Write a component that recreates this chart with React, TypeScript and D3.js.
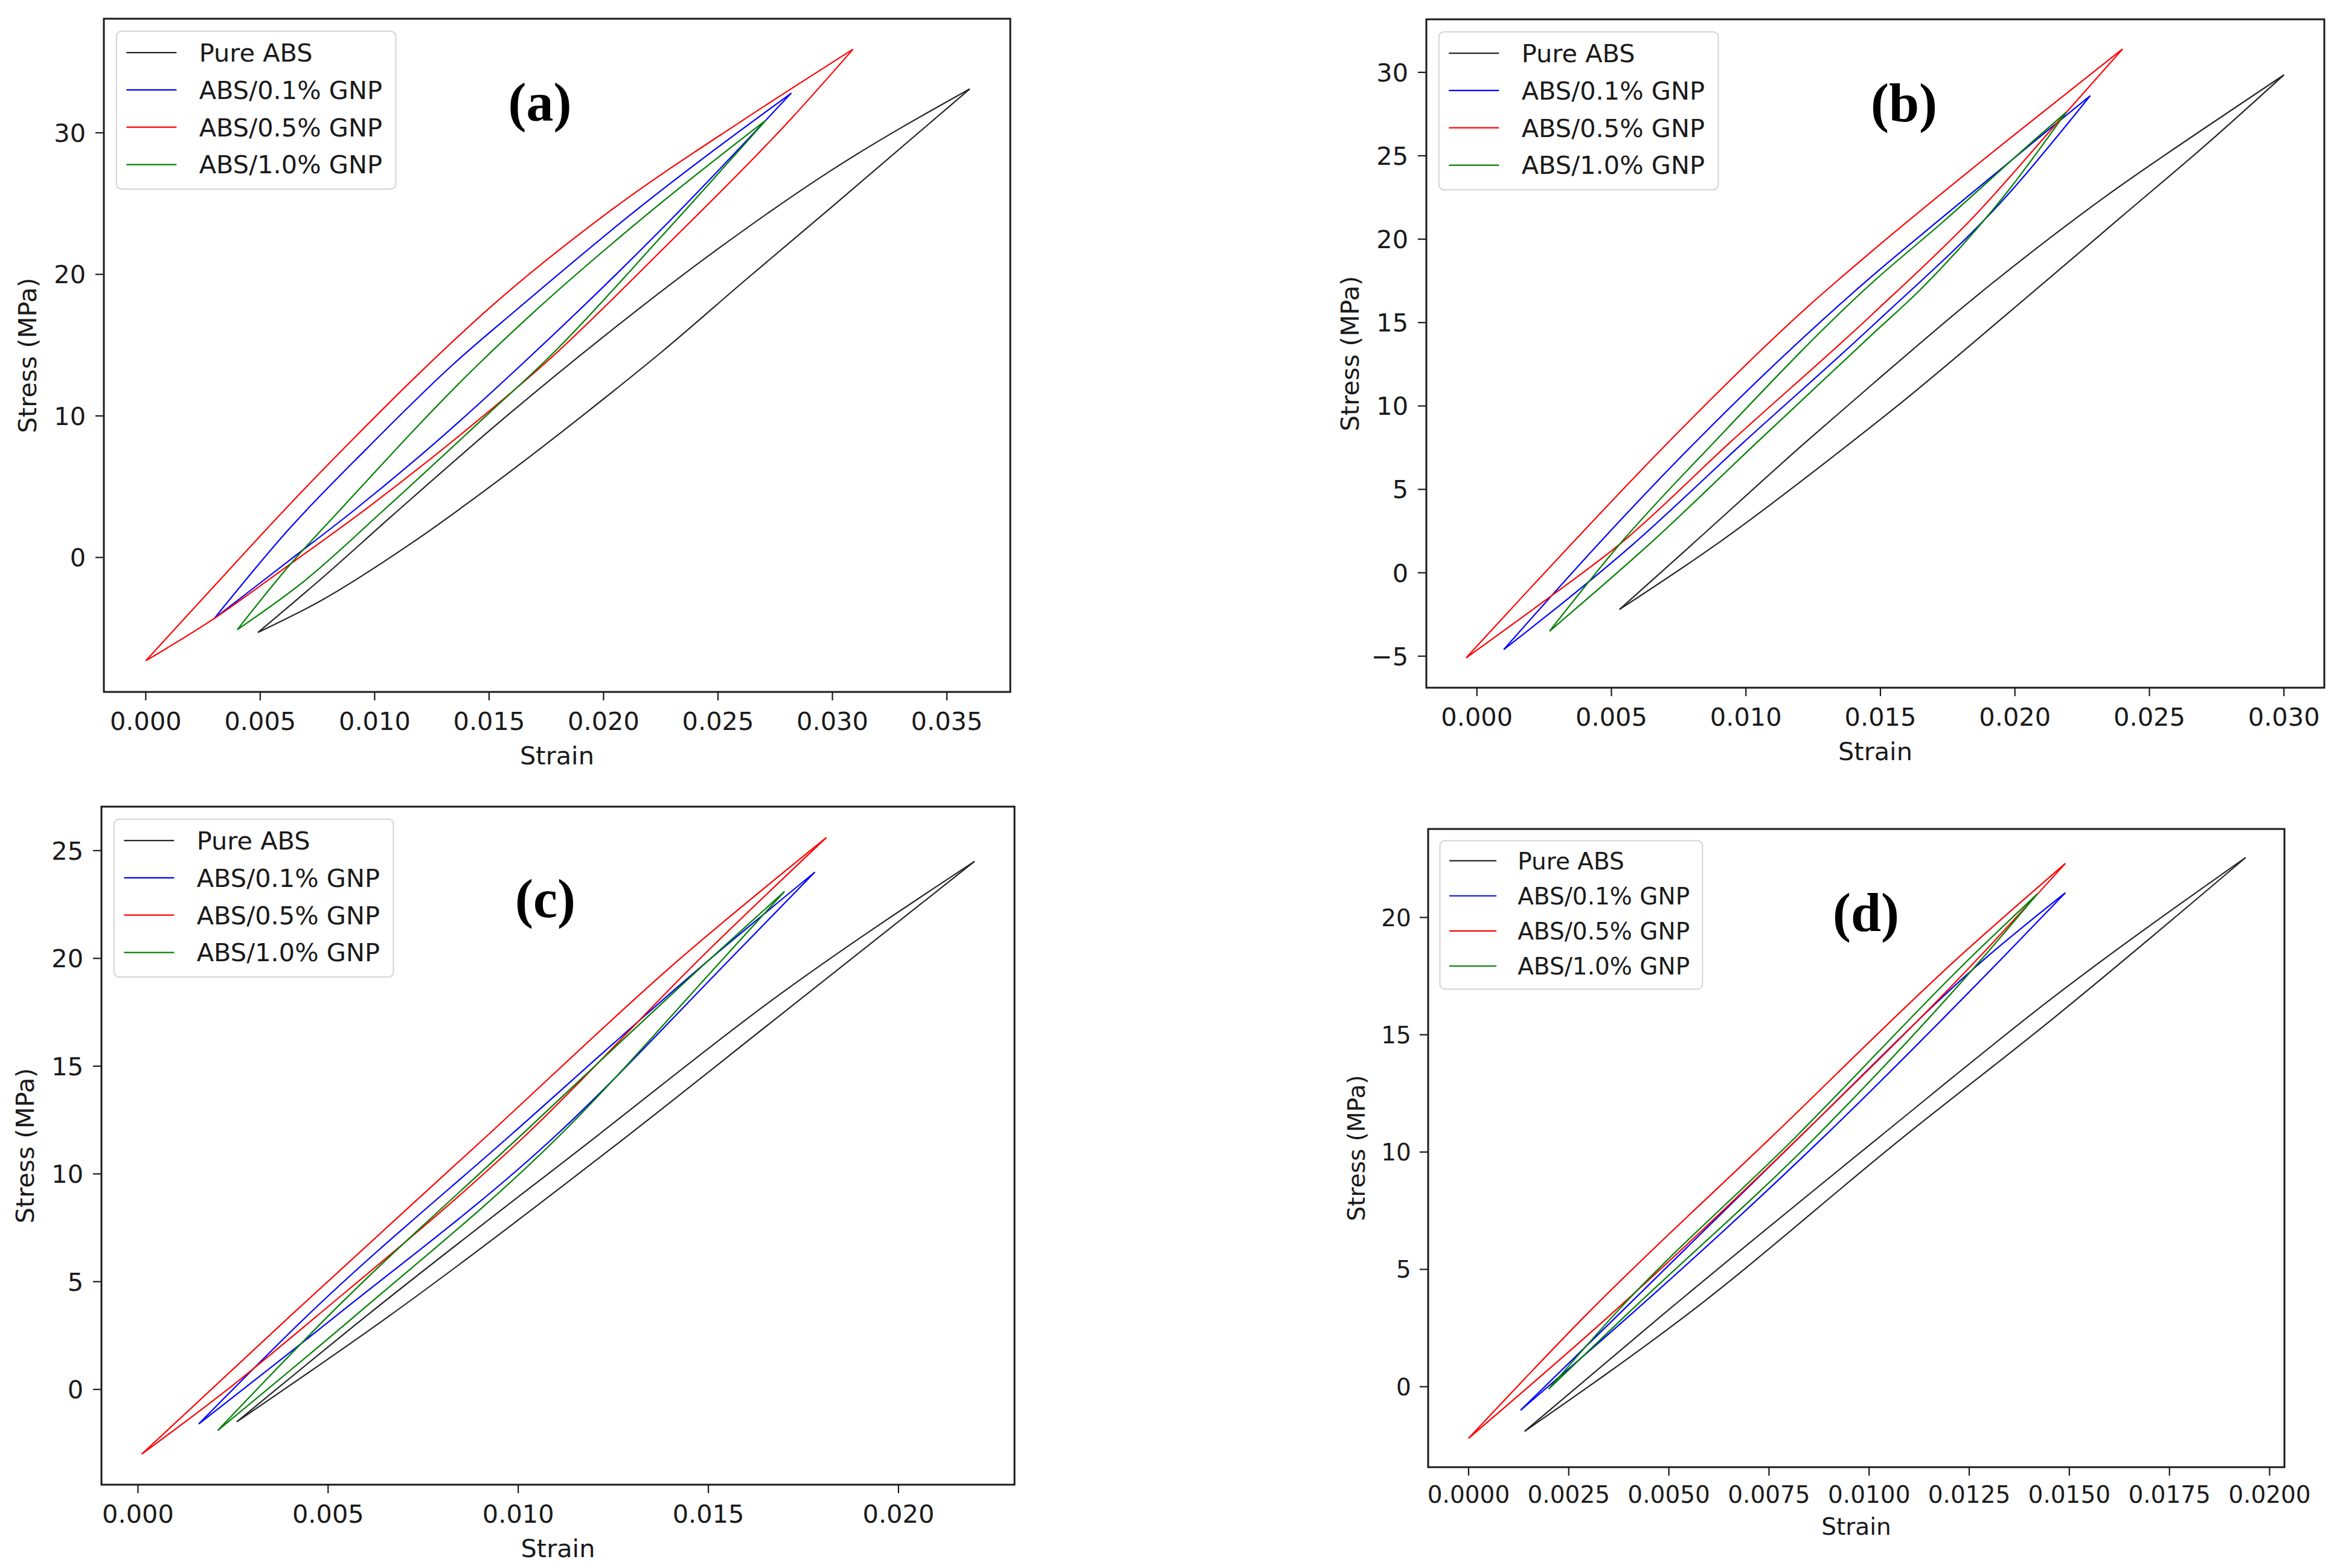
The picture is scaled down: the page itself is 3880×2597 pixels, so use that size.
import * as d3 from "d3";

type Pt = [number, number];

const SERIES = ["Pure ABS", "ABS/0.1% GNP", "ABS/0.5% GNP", "ABS/1.0% GNP"];
const COLORS = ["#262626", "#0000ff", "#ff0000", "#008000"];

// panel (a): strain, stress (MPa) — upper and lower branch of each loop
const A_PURE_UP: Pt[] = [[0.0049, -5.3], [0.0076, -1.6], [0.0108, 3.0], [0.0157, 9.9], [0.02, 15.6], [0.025, 21.8], [0.03, 27.4], [0.036, 33.1]];
const A_PURE_DN: Pt[] = [[0.0049, -5.3], [0.0076, -3.1], [0.0116, 1.0], [0.0157, 5.8], [0.0193, 10.3], [0.0226, 14.6], [0.0262, 19.6], [0.03, 24.8], [0.036, 33.1]];
const A_01_UP: Pt[] = [[0.003, -4.3], [0.0062, 1.9], [0.0096, 7.6], [0.0134, 13.6], [0.0162, 17.5], [0.0214, 24.5], [0.0282, 32.8]];
const A_01_DN: Pt[] = [[0.003, -4.3], [0.0062, -0.3], [0.009, 3.2], [0.0125, 7.9], [0.0164, 13.6], [0.0226, 23.3], [0.0282, 32.8]];
const A_05_UP: Pt[] = [[0.0, -7.3], [0.003, -2.0], [0.0062, 3.6], [0.0092, 8.6], [0.0122, 13.4], [0.015, 17.6], [0.0203, 24.5], [0.0261, 30.9], [0.0309, 35.9]];
const A_05_DN: Pt[] = [[0.0, -7.3], [0.003, -4.3], [0.0062, -0.6], [0.0096, 3.4], [0.0143, 9.4], [0.0175, 13.8], [0.0226, 21.8], [0.0282, 31.0], [0.0309, 35.9]];
const A_10_UP: Pt[] = [[0.004, -5.1], [0.0062, -0.7], [0.0084, 3.2], [0.0145, 13.6], [0.017, 17.4], [0.0221, 24.5], [0.0271, 30.9]];
const A_10_DN: Pt[] = [[0.004, -5.1], [0.0069, -1.7], [0.0103, 3.2], [0.015, 10.2], [0.0174, 13.8], [0.0226, 22.8], [0.0271, 30.9]];

// panel (b)
const B_PURE_UP: Pt[] = [[0.0053, -2.2], [0.008, 1.7], [0.0122, 7.8], [0.0147, 11.3], [0.0185, 16.5], [0.0234, 22.6], [0.027, 26.6], [0.03, 29.85]];
const B_PURE_DN: Pt[] = [[0.0053, -2.2], [0.0089, 1.7], [0.0139, 7.8], [0.0157, 10.1], [0.0197, 15.5], [0.024, 21.4], [0.0272, 25.8], [0.03, 29.85]];
const B_01_UP: Pt[] = [[0.001, -4.6], [0.0045, 1.7], [0.0081, 7.8], [0.0147, 17.8], [0.0173, 21.3], [0.0209, 26.1], [0.0228, 28.6]];
const B_01_DN: Pt[] = [[0.001, -4.6], [0.0058, 1.7], [0.0099, 7.8], [0.0147, 14.8], [0.0197, 22.6], [0.0228, 28.6]];
const B_05_UP: Pt[] = [[-0.0004, -5.1], [0.0035, 1.7], [0.0071, 7.8], [0.0124, 16.1], [0.0147, 19.3], [0.0197, 25.9], [0.024, 31.4]];
const B_05_DN: Pt[] = [[-0.0004, -5.1], [0.0025, -1.7], [0.0053, 1.7], [0.0094, 7.8], [0.0147, 15.5], [0.0185, 21.4], [0.0218, 27.4], [0.024, 31.4]];
const B_10_UP: Pt[] = [[0.0027, -3.5], [0.0053, 1.7], [0.0088, 7.8], [0.0147, 17.4], [0.0173, 21.0], [0.0209, 26.2], [0.0219, 27.6]];
const B_10_DN: Pt[] = [[0.0027, -3.5], [0.0064, 1.7], [0.0104, 7.8], [0.0147, 14.3], [0.0165, 17.0], [0.0197, 22.8], [0.0219, 27.6]];

// panel (c)
const C_PURE_UP: Pt[] = [[0.0026, -1.5], [0.006, 3.4], [0.0121, 11.8], [0.0167, 18.1], [0.022, 24.5]];
const C_PURE_DN: Pt[] = [[0.0026, -1.5], [0.0066, 3.4], [0.0129, 11.8], [0.0167, 17.1], [0.022, 24.5]];
const C_01_UP: Pt[] = [[0.0016, -1.6], [0.0045, 3.5], [0.0098, 11.8], [0.015, 19.9], [0.0178, 24.0]];
const C_01_DN: Pt[] = [[0.0016, -1.6], [0.0052, 3.4], [0.011, 11.8], [0.0157, 20.2], [0.0178, 24.0]];
const C_05_UP: Pt[] = [[0.0001, -3.0], [0.004, 3.4], [0.0092, 11.8], [0.0142, 19.9], [0.0181, 25.6]];
const C_05_DN: Pt[] = [[0.0001, -3.0], [0.0025, 0.2], [0.0047, 3.4], [0.0102, 11.8], [0.0149, 20.2], [0.0181, 25.6]];
const C_10_UP: Pt[] = [[0.0021, -1.9], [0.005, 3.4], [0.0102, 12.0], [0.015, 19.9], [0.017, 23.1]];
const C_10_DN: Pt[] = [[0.0021, -1.9], [0.0057, 3.4], [0.0111, 11.8], [0.0155, 20.2], [0.017, 23.1]];

// panel (d)
const D_PURE_UP: Pt[] = [[0.0014, -1.9], [0.0048, 3.0], [0.0103, 10.7], [0.0146, 16.6], [0.0194, 22.55]];
const D_PURE_DN: Pt[] = [[0.0014, -1.9], [0.0054, 3.0], [0.0109, 10.7], [0.0146, 15.7], [0.0194, 22.55]];
const D_01_UP: Pt[] = [[0.0013, -1.0], [0.0037, 3.0], [0.0083, 10.7], [0.013, 18.4], [0.0149, 21.05]];
const D_01_DN: Pt[] = [[0.0013, -1.0], [0.004, 3.0], [0.0089, 10.7], [0.0134, 18.4], [0.0149, 21.05]];
const D_05_UP: Pt[] = [[0.0, -2.2], [0.0029, 3.0], [0.0076, 10.7], [0.0123, 18.4], [0.0149, 22.3]];
const D_05_DN: Pt[] = [[0.0, -2.2], [0.0035, 3.0], [0.0083, 10.7], [0.0128, 18.4], [0.0149, 22.3]];
const D_10_UP: Pt[] = [[0.002, -0.1], [0.0036, 3.0], [0.0082, 10.7], [0.0126, 18.4], [0.0142, 21.0]];
const D_10_DN: Pt[] = [[0.002, -0.1], [0.0039, 3.0], [0.0087, 10.7], [0.0129, 18.4], [0.0142, 21.0]];

const A_X_TICKS = [0, 0.005, 0.01, 0.015, 0.02, 0.025, 0.03, 0.035];
const A_Y_TICKS = [0, 10, 20, 30];
const B_X_TICKS = [0, 0.005, 0.01, 0.015, 0.02, 0.025, 0.03];
const B_Y_TICKS = [-5, 0, 5, 10, 15, 20, 25, 30];
const C_X_TICKS = [0, 0.005, 0.01, 0.015, 0.02];
const C_Y_TICKS = [0, 5, 10, 15, 20, 25];
const D_X_TICKS = [0, 0.0025, 0.005, 0.0075, 0.01, 0.0125, 0.015, 0.0175, 0.02];
const D_Y_TICKS = [0, 5, 10, 15, 20];

interface Panel {
  tag: string;
  box: { l: number; r: number; t: number; b: number };
  xDom: [number, number];
  yDom: [number, number];
  xTicks: number[];
  yTicks: number[];
  xDigits: number;
  fs: number;
  tagAt: [number, number];
  loops: [Pt[], Pt[]][];
}

const PANELS: Panel[] = [
  {
    tag: "(a)", box: { l: 172, r: 1673, t: 31, b: 1146 },
    xDom: [-0.00183, 0.03777], yDom: [-9.5, 38.06],
    xTicks: A_X_TICKS, yTicks: A_Y_TICKS, xDigits: 3, fs: 41.5, tagAt: [894, 200],
    loops: [[A_PURE_UP, A_PURE_DN], [A_01_UP, A_01_DN], [A_05_UP, A_05_DN], [A_10_UP, A_10_DN]],
  },
  {
    tag: "(b)", box: { l: 2362, r: 3849, t: 32, b: 1139 },
    xDom: [-0.00188, 0.0315], yDom: [-6.89, 33.18],
    xTicks: B_X_TICKS, yTicks: B_Y_TICKS, xDigits: 3, fs: 41.5, tagAt: [3153, 201],
    loops: [[B_PURE_UP, B_PURE_DN], [B_01_UP, B_01_DN], [B_05_UP, B_05_DN], [B_10_UP, B_10_DN]],
  },
  {
    tag: "(c)", box: { l: 168, r: 1680, t: 1336, b: 2459 },
    xDom: [-0.00096, 0.02305], yDom: [-4.42, 27.04],
    xTicks: C_X_TICKS, yTicks: C_Y_TICKS, xDigits: 3, fs: 41.5, tagAt: [903, 1519],
    loops: [[C_PURE_UP, C_PURE_DN], [C_01_UP, C_01_DN], [C_05_UP, C_05_DN], [C_10_UP, C_10_DN]],
  },
  {
    tag: "(d)", box: { l: 2365, r: 3783, t: 1373, b: 2430 },
    xDom: [-0.00101, 0.02037], yDom: [-3.43, 23.77],
    xTicks: D_X_TICKS, yTicks: D_Y_TICKS, xDigits: 4, fs: 39, tagAt: [3090, 1542],
    loops: [[D_PURE_UP, D_PURE_DN], [D_01_UP, D_01_DN], [D_05_UP, D_05_DN], [D_10_UP, D_10_DN]],
  },
];

const FONT = "'DejaVu Sans', sans-serif";
const minus = (s: string) => s.replace("-", "\u2212");

function Chart({ p, idx }: { p: Panel; idx: number }) {
  const { l, r, t, b } = p.box;
  const x = d3.scaleLinear().domain(p.xDom).range([l, r]);
  const y = d3.scaleLinear().domain(p.yDom).range([b, t]);
  const line = d3.line<Pt>().x(d => x(d[0])).y(d => y(d[1])).curve(d3.curveMonotoneX);
  const fs = p.fs;
  const tick = 14;
  const clipId = `clip-${idx}`;

  // legend geometry (matplotlib-like spacing)
  const lx = l + 0.5 * fs;
  const ly = t + 0.5 * fs;
  const lw = 11.15 * fs;
  const lh = 6.3 * fs;
  const row0 = ly + 0.85 * fs;
  const rowGap = 1.49 * fs;

  return (
    <g>
      <clipPath id={clipId}>
        <rect x={l} y={t} width={r - l} height={b - t} />
      </clipPath>
      <rect x={l} y={t} width={r - l} height={b - t} fill="#fff" />
      <g clipPath={`url(#${clipId})`} fill="none" strokeWidth={2.2} strokeLinejoin="round">
        {p.loops.map((loop, i) => (
          <g key={i} stroke={COLORS[i]}>
            <path d={line(loop[0]) ?? ""} />
            <path d={line(loop[1]) ?? ""} />
          </g>
        ))}
      </g>
      <rect x={l} y={t} width={r - l} height={b - t} fill="none" stroke="#1a1a1a" strokeWidth={3} />

      {p.xTicks.map(v => (
        <g key={`x${v}`}>
          <line x1={x(v)} x2={x(v)} y1={b} y2={b + tick} stroke="#1a1a1a" strokeWidth={2.2} />
          <text x={x(v)} y={b + 1.52 * fs} fontSize={fs} fontFamily={FONT} textAnchor="middle" fill="#1a1a1a">
            {v.toFixed(p.xDigits)}
          </text>
        </g>
      ))}
      {p.yTicks.map(v => (
        <g key={`y${v}`}>
          <line x1={l - tick} x2={l} y1={y(v)} y2={y(v)} stroke="#1a1a1a" strokeWidth={2.2} />
          <text x={l - 0.72 * fs} y={y(v)} dy="0.36em" fontSize={fs} fontFamily={FONT} textAnchor="end" fill="#1a1a1a">
            {minus(String(v))}
          </text>
        </g>
      ))}
      <text x={(l + r) / 2} y={b + 2.88 * fs} fontSize={fs} fontFamily={FONT} textAnchor="middle" fill="#1a1a1a">
        Strain
      </text>
      <text
        transform={`translate(${l - 3.05 * fs},${(t + b) / 2}) rotate(-90)`}
        dy="0.36em" fontSize={fs} fontFamily={FONT} textAnchor="middle" fill="#1a1a1a"
      >
        Stress (MPa)
      </text>

      <rect x={lx} y={ly} width={lw} height={lh} rx={0.2 * fs} fill="#fff" fillOpacity={0.8} stroke="#d4d4d4" strokeWidth={2} />
      {SERIES.map((s, i) => {
        const cy = row0 + i * rowGap;
        return (
          <g key={s}>
            <line x1={lx + 0.4 * fs} x2={lx + 2.4 * fs} y1={cy} y2={cy} stroke={COLORS[i]} strokeWidth={2.2} />
            <text x={lx + 3.3 * fs} y={cy} dy="0.36em" fontSize={fs} fontFamily={FONT} fill="#1a1a1a">
              {s}
            </text>
          </g>
        );
      })}

      <text x={p.tagAt[0]} y={p.tagAt[1]} fontSize={90} fontWeight="bold"
        fontFamily="'Liberation Serif', 'Times New Roman', serif" textAnchor="middle" fill="#000">
        {p.tag}
      </text>
    </g>
  );
}

export default function App() {
  const W = 3880;
  const H = 2597;
  return (
    <div>
      <svg width={W} height={H} style={{ position: "absolute", left: 0, top: 0, background: "#fff" }}>
        <rect width={W} height={H} fill="#fff" />
        {PANELS.map((p, i) => <Chart key={p.tag} p={p} idx={i} />)}
      </svg>
    </div>
  );
}
